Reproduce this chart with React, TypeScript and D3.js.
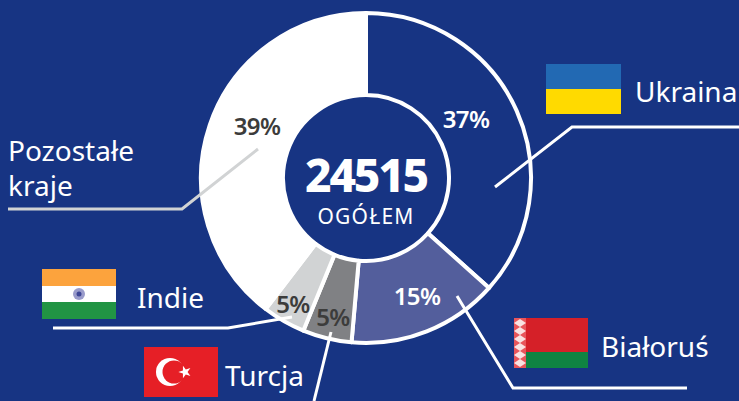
import React from "react";
import * as d3 from "d3";

const categories = ["Ukraina", "Białoruś", "Turcja", "Indie", "Pozostałe kraje"];
const shares = [36.6, 14.8, 4.8, 4.2, 39.6];
const labels = ["37%", "15%", "5%", "5%", "39%"];
const sliceFills = ["#173483", "#535e9c", "#808184", "#d1d3d4", "#ffffff"];
const labelFills = ["#ffffff", "#ffffff", "#3c3c3b", "#3c3c3b", "#3c3c3b"];
const labelPos: [number, number][] = [[466, 120], [417, 297], [333, 318], [293, 305], [257, 127]];
const leaders: { pts: [number, number][]; color: string }[] = [
  { pts: [[495, 187], [572, 127], [739, 127]], color: "#ffffff" },
  { pts: [[457, 296], [513, 388], [687, 388]], color: "#ffffff" },
  { pts: [[331, 332], [314, 401]], color: "#ffffff" },
  { pts: [[292, 317], [228, 328], [53, 328]], color: "#ffffff" },
  { pts: [[258, 149], [182, 209], [8, 209]], color: "#d1d3d4" },
];
const total = "24515";
const totalLabel = "OGÓŁEM";

const FONT = "'Noto Sans', 'Open Sans', sans-serif";
const W = 739, H = 401, CX = 366, CY = 178, R = 165, r = 83;

export default function App() {
  const pie = d3.pie<number>().sort(null).value((d) => d)(shares);
  const arc = d3.arc<d3.PieArcDatum<number>>().innerRadius(r).outerRadius(R);
  const line = d3.line();
  return (
    <svg width={W} height={H} style={{ position: "fixed", left: 0, top: 0, background: "#173483" }} fontFamily={FONT}>
      <rect width={W} height={H} fill="#173483" />
      <g transform={`translate(${CX},${CY})`}>
        {pie.map((d, i) => (
          <path key={i} d={arc(d) ?? ""} fill={sliceFills[i]} stroke="#ffffff" strokeWidth={4} strokeLinejoin="round" />
        ))}
      </g>
      {leaders.map((l, i) => (
        <path key={i} d={line(l.pts) ?? ""} fill="none" stroke={l.color} strokeWidth={3} />
      ))}
      {labels.map((t, i) => (
        <text key={i} x={labelPos[i][0]} y={labelPos[i][1]} dy="0.35em" textAnchor="middle" fontSize={24} fontWeight={600} letterSpacing={-0.6} fill={labelFills[i]}>{t}</text>
      ))}
      <text x={366} y={176} dy="0.35em" textAnchor="middle" fontSize={46} fontWeight={800} letterSpacing={-2.2} fill="#fff">{total}</text>
      <text x={366} y={217} dy="0.35em" textAnchor="middle" fontSize={21} letterSpacing={1.2} fill="#fff">{totalLabel}</text>

      {/* Ukraine */}
      <rect x={546} y={64} width={75} height={25} fill="#2269b3" />
      <rect x={546} y={89} width={75} height={25} fill="#ffda00" />
      <text x={635} y={102} fontSize={28} fill="#fff">{categories[0]}</text>

      {/* Belarus */}
      <rect x={514} y={318} width={74} height={34} fill="#d52028" />
      <rect x={514} y={352} width={74} height={16} fill="#0f8342" />
      <rect x={514} y={318} width={12} height={50} fill="#e8555b" />
      {d3.range(6).map((i) => (
        <path key={i} d={`M520 ${319 + i * 8} l6 4 l-6 4 l-6 -4 Z`} fill="#f9e2e2" />
      ))}
      <text x={601} y={357} fontSize={28} fill="#fff">{categories[1]}</text>

      {/* Turkey */}
      <rect x={144} y={347} width={74} height={50} fill="#e61f26" />
      <circle cx={170} cy={372} r={14} fill="#fff" />
      <circle cx={174} cy={372} r={11.5} fill="#e61f26" />
      <path d={d3.symbol().type(d3.symbolStar).size(50)() ?? ""} transform="translate(185,372) rotate(-90)" fill="#fff" />
      <text x={225} y={386} fontSize={28} fill="#fff">{categories[2]}</text>

      {/* India */}
      <rect x={42} y={269} width={74} height={17} fill="#fca33d" />
      <rect x={42} y={286} width={74} height={17} fill="#ffffff" />
      <rect x={42} y={302} width={74} height={17} fill="#219444" />
      <circle cx={79} cy={294} r={6} fill="#9a9ccb" />
      <circle cx={79} cy={294} r={2.5} fill="#3f4796" />
      <text x={137} y={308} fontSize={28} fill="#fff">{categories[3]}</text>

      <text x={8} y={161} fontSize={28} fill="#fff">Pozostałe</text>
      <text x={8} y={196} fontSize={28} fill="#fff">kraje</text>
    </svg>
  );
}
